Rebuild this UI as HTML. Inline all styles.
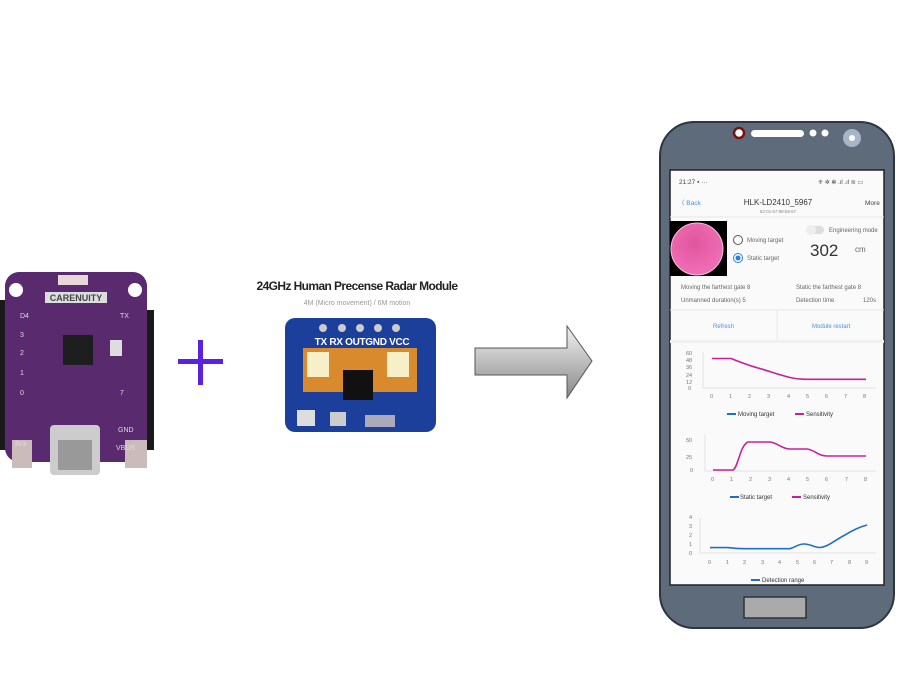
<!DOCTYPE html>
<html><head><meta charset="utf-8"><style>
html,body{margin:0;padding:0;background:#fff;}
svg{display:block;font-family:"Liberation Sans",sans-serif;}
</style></head><body>
<svg width="900" height="675" viewBox="0 0 900 675" xmlns="http://www.w3.org/2000/svg">
<defs>
<linearGradient id="ag" x1="0" y1="0" x2="0" y2="1"><stop offset="0" stop-color="#f2f2f2"/><stop offset="0.5" stop-color="#bdbdbd"/><stop offset="1" stop-color="#888"/></linearGradient>
<radialGradient id="pk" cx="0.45" cy="0.4" r="0.6"><stop offset="0" stop-color="#e0559c"/><stop offset="1" stop-color="#f06fb7"/></radialGradient>
</defs>
<!-- ESP32 board -->
<rect x="0" y="300" width="20" height="150" fill="#1a1a1a"/>
<rect x="132" y="310" width="22" height="140" fill="#1a1a1a"/>
<rect x="5" y="272" width="142" height="190" rx="14" fill="#5a2a6e"/>
<circle cx="16" cy="290" r="7" fill="#fff"/><circle cx="135" cy="290" r="7" fill="#fff"/>
<rect x="58" y="275" width="30" height="10" fill="#e8d8d8"/>
<rect x="45" y="292" width="62" height="11" fill="#ddd"/>
<text x="76" y="301" font-size="9" font-weight="bold" fill="#444" text-anchor="middle">CARENUITY</text>
<rect x="63" y="335" width="30" height="30" fill="#1e1e1e"/>
<rect x="110" y="340" width="12" height="16" fill="#ddd"/>
<rect x="50" y="425" width="50" height="50" rx="4" fill="#ccc"/>
<rect x="58" y="440" width="34" height="30" fill="#999"/>
<rect x="12" y="440" width="20" height="28" fill="#cbb"/>
<rect x="125" y="440" width="22" height="28" fill="#cbb"/>
<g fill="#ddd" font-size="7"><text x="20" y="318">D4</text><text x="20" y="337">3</text><text x="20" y="355">2</text><text x="20" y="375">1</text><text x="20" y="395">0</text><text x="120" y="318">TX</text><text x="120" y="395">7</text><text x="118" y="432">GND</text><text x="116" y="450">VBUS</text><text x="14" y="446">3V3</text></g>
<!-- plus -->
<rect x="178" y="359" width="45" height="5" fill="#5a22e0"/>
<rect x="198" y="340" width="5" height="45" fill="#5a22e0"/>
<!-- radar -->
<text x="357" y="290" font-size="12" font-weight="bold" fill="#222" text-anchor="middle" letter-spacing="-0.6">24GHz Human Precense Radar Module</text>
<text x="357" y="305" font-size="7" fill="#999" text-anchor="middle">4M (Micro movement) / 6M motion</text>
<rect x="285" y="318" width="151" height="114" rx="10" fill="#1b3f9a"/>
<g fill="#ccc"><circle cx="323" cy="328" r="4"/><circle cx="342" cy="328" r="4"/><circle cx="360" cy="328" r="4"/><circle cx="378" cy="328" r="4"/><circle cx="396" cy="328" r="4"/></g>
<text x="362" y="345" font-size="10" font-weight="bold" fill="#fff" text-anchor="middle" letter-spacing="-0.3">TX RX OUTGND VCC</text>
<rect x="303" y="348" width="114" height="44" fill="#d88a2c"/>
<rect x="307" y="352" width="22" height="25" fill="#f6f0c8"/>
<rect x="387" y="352" width="22" height="25" fill="#f6f0c8"/>
<rect x="343" y="370" width="30" height="30" fill="#111"/>
<rect x="297" y="410" width="18" height="16" fill="#ddd"/>
<rect x="330" y="412" width="16" height="14" fill="#ccc"/>
<rect x="365" y="415" width="30" height="12" fill="#aab"/>
<!-- arrow -->
<polygon points="475,348 567,348 567,326 592,361 567,398 567,375 475,375" fill="url(#ag)" stroke="#555" stroke-width="1"/>
<!-- phone -->
<rect x="660" y="122" width="234" height="506" rx="34" fill="#5d6b7a" stroke="#2d3540" stroke-width="2"/>
<circle cx="739" cy="133" r="5" fill="#fff" stroke="#7a1010" stroke-width="2.5"/>
<rect x="751" y="130" width="53" height="7" rx="3.5" fill="#fff"/>
<circle cx="813" cy="133" r="3.5" fill="#fff"/><circle cx="825" cy="133" r="3.5" fill="#fff"/>
<circle cx="852" cy="138" r="9" fill="#a8b5c8"/><circle cx="852" cy="138" r="3" fill="#fff"/>
<rect x="744" y="597" width="62" height="21" fill="#aaa" stroke="#333" stroke-width="1.5"/>
<rect x="670" y="170" width="214" height="415" fill="#fafafa" stroke="#222" stroke-width="1.5"/>
<g font-size="6.5" fill="#444">
<text x="679" y="184">21:27 ▪ ···</text>
<text x="818" y="184" font-size="6">⁜ ✲ ✻ .ıl .ıl ≋ ▭</text>
<text x="678" y="205" fill="#4a90e2">〈 Back</text>
<text x="778" y="205" font-size="8" text-anchor="middle" fill="#333">HLK-LD2410_5967</text>
<text x="778" y="213" font-size="4.5" text-anchor="middle" fill="#888">62:01:67:98:59:67</text>
<text x="865" y="205">More</text>
</g>
<line x1="670" y1="217" x2="884" y2="217" stroke="#e5e5e5"/>
<rect x="670" y="221" width="57" height="55" fill="#000"/>
<circle cx="697" cy="249" r="26" fill="url(#pk)" stroke="#f4c0dc" stroke-width="1"/>
<circle cx="738" cy="240" r="4.5" fill="#fff" stroke="#555"/>
<circle cx="738" cy="258" r="4.5" fill="#fff" stroke="#2a7be4"/><circle cx="738" cy="258" r="2.5" fill="#2a7be4"/>
<g font-size="6" fill="#666">
<text x="747" y="242">Moving target</text><text x="747" y="260">Static target</text>
<text x="829" y="232">Engineering mode</text>
<text x="855" y="252" font-size="8">cm</text>
<text x="681" y="289">Moving the farthest gate  8</text>
<text x="796" y="289">Static the farthest gate  8</text>
<text x="681" y="302">Unmanned duration(s)    5</text>
<text x="796" y="302">Detection time</text><text x="863" y="302">120s</text>
<text x="713" y="328" fill="#4a90e2">Refresh</text>
<text x="812" y="328" fill="#4a90e2">Module restart</text>
</g>
<rect x="807" y="226" width="17" height="8" rx="4" fill="#ddd"/><circle cx="811" cy="230" r="5" fill="#eee"/>
<text x="810" y="256" font-size="17" fill="#333">302</text>
<line x1="670" y1="310" x2="884" y2="310" stroke="#e5e5e5"/>
<line x1="777" y1="310" x2="777" y2="340" stroke="#e5e5e5"/>
<rect x="670" y="340" width="214" height="3" fill="#f0f0f0"/>
<!-- chart1 -->
<g font-size="5.5" fill="#777">
<text x="686" y="355">60</text><text x="686" y="362">48</text><text x="686" y="369">36</text><text x="686" y="377">24</text><text x="686" y="384">12</text><text x="688" y="390">0</text>
<text x="710" y="398">0</text><text x="729" y="398">1</text><text x="748" y="398">2</text><text x="767" y="398">3</text><text x="787" y="398">4</text><text x="806" y="398">5</text><text x="825" y="398">6</text><text x="844" y="398">7</text><text x="863" y="398">8</text>
<text x="738" y="416" font-size="6" fill="#333">Moving target</text><text x="806" y="416" font-size="6" fill="#333">Sensitivity</text>
<text x="686" y="442">50</text><text x="686" y="459">25</text><text x="690" y="472">0</text>
<text x="711" y="481">0</text><text x="730" y="481">1</text><text x="749" y="481">2</text><text x="768" y="481">3</text><text x="787" y="481">4</text><text x="806" y="481">5</text><text x="825" y="481">6</text><text x="845" y="481">7</text><text x="864" y="481">8</text>
<text x="740" y="499" font-size="6" fill="#333">Static target</text><text x="803" y="499" font-size="6" fill="#333">Sensitivity</text>
<text x="689" y="519">4</text><text x="689" y="528">3</text><text x="689" y="537">2</text><text x="689" y="546">1</text><text x="689" y="555">0</text>
<text x="708" y="564">0</text><text x="726" y="564">1</text><text x="743" y="564">2</text><text x="761" y="564">3</text><text x="778" y="564">4</text><text x="796" y="564">5</text><text x="813" y="564">6</text><text x="830" y="564">7</text><text x="848" y="564">8</text><text x="865" y="564">9</text>
<text x="762" y="582" font-size="6" fill="#333">Detection range</text>
</g>
<g stroke="#e3e3e3" fill="none"><polyline points="703,352 703,388 876,388"/><polyline points="705,435 705,471 876,471"/><polyline points="700,518 700,553 876,553"/></g>
<g stroke-width="2"><line x1="727" y1="414" x2="736" y2="414" stroke="#1f6fc5"/><line x1="795" y1="414" x2="804" y2="414" stroke="#c81fa0"/>
<line x1="730" y1="497" x2="739" y2="497" stroke="#1f6fc5"/><line x1="792" y1="497" x2="801" y2="497" stroke="#c81fa0"/>
<line x1="751" y1="580" x2="760" y2="580" stroke="#1f6fc5"/></g>
<path d="M712,358.5 L731,358.5 C740,362 750,366 760,368.5 C770,371.5 780,375 790,377.5 C796,379 801,379.3 808,379.3 L866,379.3" fill="none" stroke="#c81fa0" stroke-width="1.6"/>
<path d="M713,470 L733,470 C738,468 740,445 748,442 L770,442 C778,443 782,449 790,449 L807,449 C815,450 818,456 827,456 L866,456" fill="none" stroke="#c81fa0" stroke-width="1.6"/>
<path d="M710,547.6 L728,547.6 C735,548.5 740,548.7 745,548.7 L790,548.7 C796,547 798,544 804,544 C811,544 814,547.5 820,547.5 C828,547 835,540 845,535 C855,529 860,527 867,525" fill="none" stroke="#1f6fc5" stroke-width="1.6"/>
</svg>
</body></html>
